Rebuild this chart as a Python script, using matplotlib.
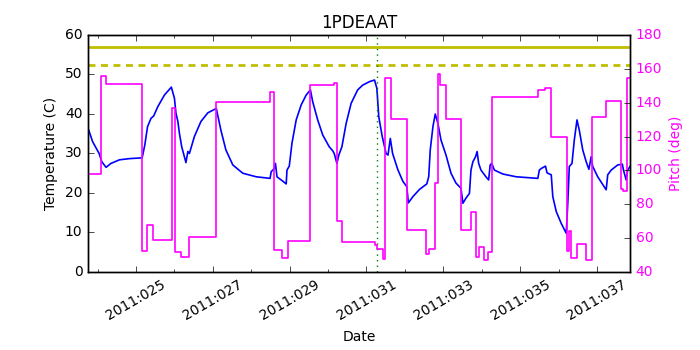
import matplotlib
matplotlib.use('Agg')
import matplotlib.pyplot as plt
from matplotlib.ticker import MultipleLocator, FuncFormatter

plt.style.use('classic')
plt.rcParams['font.size'] = 10
plt.rcParams['axes.titlesize'] = 12

# temperature (C) vs day of year 2011
t_days = [23.77, 23.87, 24.04, 24.11, 24.22, 24.35, 24.57, 24.83, 25.16, 25.23,
          25.30, 25.39, 25.46, 25.57, 25.74, 25.92, 26.00, 26.04, 26.09, 26.13,
          26.19, 26.30, 26.35, 26.39, 26.52, 26.69, 26.87, 27.09, 27.21, 27.34,
          27.52, 27.78, 28.13, 28.49, 28.52, 28.60, 28.63, 28.67, 28.78, 28.91,
          28.93, 28.99, 29.06, 29.17, 29.30, 29.43, 29.54, 29.60, 29.73, 29.86,
          30.03, 30.12, 30.16, 30.23, 30.28, 30.36, 30.47, 30.60, 30.77, 30.90,
          31.08, 31.21, 31.27, 31.32, 31.41, 31.51, 31.56, 31.62, 31.68, 31.82,
          31.95, 32.05, 32.09, 32.21, 32.38, 32.57, 32.62, 32.66, 32.73, 32.79,
          32.86, 32.94, 33.07, 33.20, 33.33, 33.46, 33.51, 33.59, 33.68, 33.72,
          33.77, 33.84, 33.88, 33.92, 33.98, 34.11, 34.18, 34.22, 34.26, 34.33,
          34.55, 34.90, 35.46, 35.50, 35.55, 35.66, 35.70, 35.81, 35.85, 35.94,
          36.07, 36.20, 36.24, 36.28, 36.35, 36.41, 36.48, 36.54, 36.63, 36.72,
          36.79, 36.85, 36.89, 37.02, 37.24, 37.28, 37.37, 37.54, 37.66, 37.69,
          37.76, 37.80, 37.86]
temps = [35.9, 33.0, 30.0, 27.9, 26.5, 27.5, 28.4, 28.7, 28.9, 32.2,
         36.8, 38.9, 39.5, 41.9, 44.8, 46.8, 44.0, 40.2, 38.1, 35.1,
         31.7, 27.7, 30.5, 30.0, 34.3, 38.1, 40.3, 41.4, 35.9, 30.9,
         27.1, 25.0, 24.1, 23.7, 25.4, 26.2, 27.5, 24.1, 23.3, 22.3,
         25.8, 26.8, 32.6, 38.5, 42.3, 44.8, 46.1, 43.1, 38.5, 34.7,
         31.7, 30.7, 30.0, 27.5, 29.6, 31.7, 37.6, 42.7, 46.1, 47.3,
         48.2, 48.6, 46.5, 39.3, 34.3, 30.0, 29.6, 33.8, 30.0, 25.8,
         22.9, 21.6, 17.5, 19.1, 20.9, 22.3, 24.1, 30.9, 36.8, 40.0,
         37.6, 33.4, 29.6, 25.0, 22.5, 21.2, 17.4, 18.7, 19.9, 25.8,
         27.9, 29.2, 30.5, 27.5, 25.8, 24.1, 23.3, 27.1, 27.5, 25.8,
         24.8, 24.1, 23.7, 25.8, 26.2, 26.8, 25.1, 24.6, 19.1, 15.3,
         12.3, 9.8, 17.4, 26.7, 27.5, 33.4, 38.5, 35.9, 30.9, 27.9,
         26.0, 29.2, 26.7, 24.1, 20.8, 24.6, 25.8, 27.1, 27.3, 25.8,
         23.3, 25.8, 26.7]

# pitch (deg), step changes
p_days = [23.75, 24.08, 24.22, 25.15, 25.29, 25.43, 25.94, 26.02, 26.16, 26.37,
          27.09, 28.49, 28.58, 28.80, 28.96, 29.54, 30.16, 30.23, 30.36, 31.22,
          31.28, 31.42, 31.48, 31.63, 32.05, 32.56, 32.62, 32.78, 32.85, 32.92,
          33.07, 33.47, 33.72, 33.85, 33.92, 34.05, 34.17, 34.28, 35.47, 35.66,
          35.81, 36.22, 36.28, 36.33, 36.48, 36.72, 36.86, 37.24, 37.62, 37.69,
          37.79, 37.86]
pitch = [98, 156, 151, 52.4, 68, 59, 137, 51.6, 49, 60.7,
         140.2, 146.5, 53, 48.3, 58.3, 150.5, 151.8, 70, 57.5, 56,
         53.6, 47.5, 154.4, 130.2, 64.8, 50.6, 53.8, 92.4, 157, 150.3,
         130.5, 64.8, 75.4, 49, 55, 47.1, 52, 143.5, 147.5, 148.7,
         119.6, 52.6, 64.2, 48, 56.7, 47.1, 131.7, 141.2, 88.8, 87.7,
         154.8, 154.8]

yellow_limit = 57.0
planning_limit = 52.5
now_day = 31.28

fig = plt.figure(figsize=(7, 3.5))
ax = fig.add_axes([0.1257, 0.2229, 0.7743, 0.6771])
ax.plot(t_days, temps, color='b', lw=1.2)
ax.axhline(yellow_limit, color='y', lw=2)
ax.axhline(planning_limit, color='y', lw=2, ls='--', dashes=(5, 4))
ax.axvline(now_day, color='g', ls=':', lw=1)
ax.set_xlim(23.75, 37.86)
ax.set_ylim(0, 60)
ax.set_title('1PDEAAT')
ax.set_xlabel('Date')
ax.set_ylabel('Temperature (C)')
ax.xaxis.set_major_locator(MultipleLocator(2, offset=1))
ax.xaxis.set_minor_locator(MultipleLocator(1))
ax.xaxis.set_major_formatter(FuncFormatter(lambda x, pos: '2011:%03d' % round(x)))
for lbl in ax.get_xticklabels():
    lbl.set_rotation(30)
ax.yaxis.set_major_locator(MultipleLocator(10))

ax2 = ax.twinx()
ax2.plot(p_days, pitch, color='magenta', lw=1.2, drawstyle='steps-post')
ax2.set_ylim(40, 180)
ax2.set_xlim(23.75, 37.86)
ax2.yaxis.set_major_locator(MultipleLocator(20))
ax2.set_ylabel('Pitch (deg)', color='magenta')
for lbl in ax2.get_yticklabels():
    lbl.set_color('magenta')

fig.savefig('out.png', dpi=100, facecolor='white')
